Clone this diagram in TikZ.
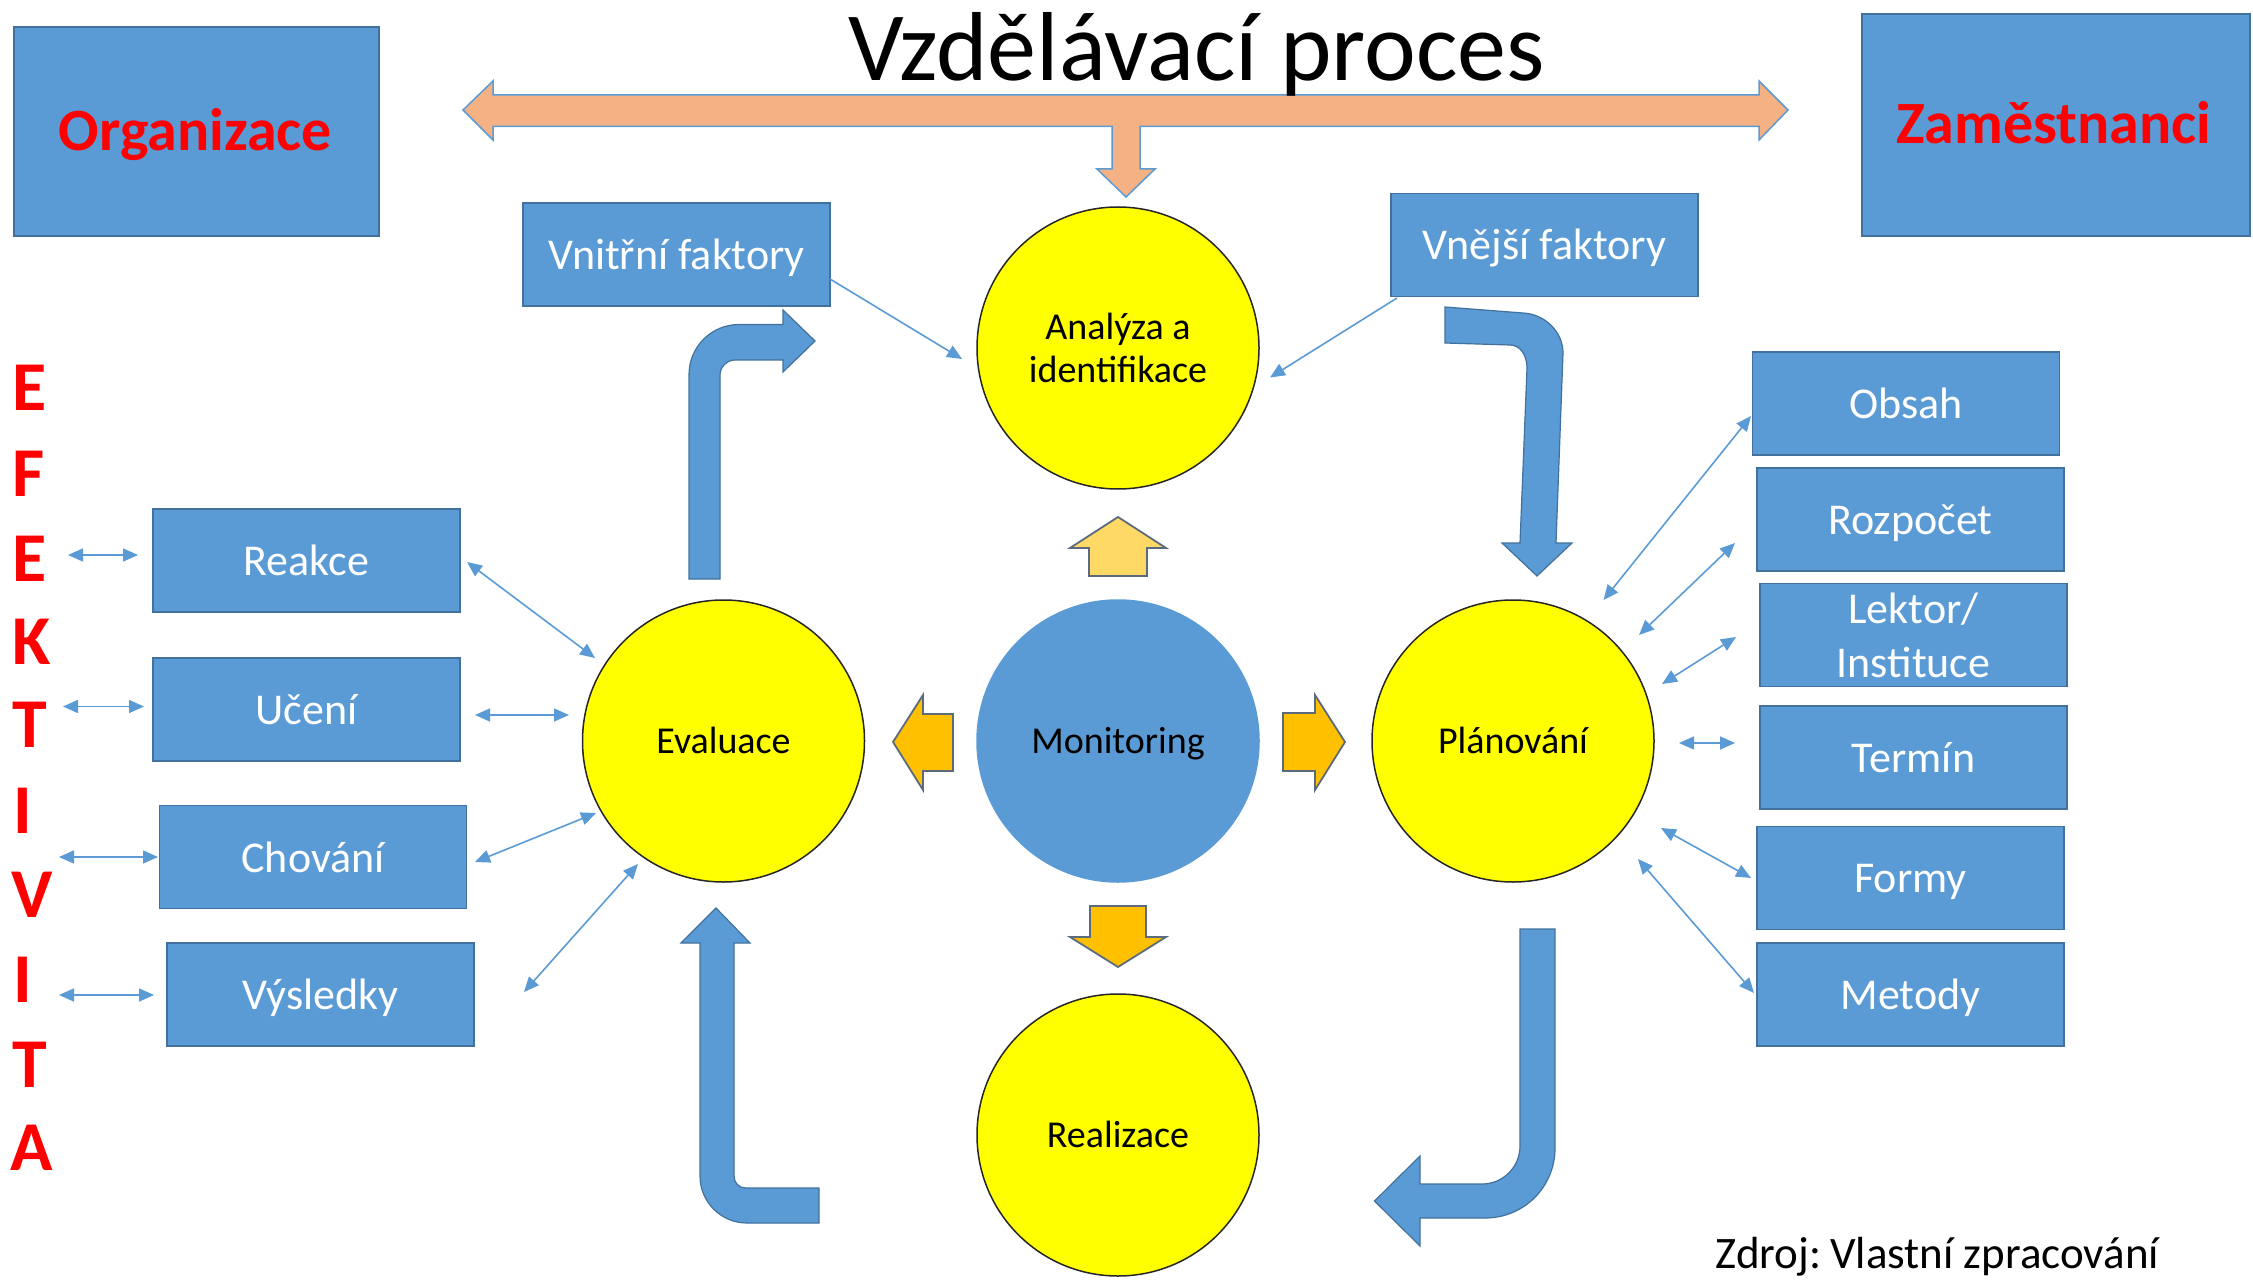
\documentclass[tikz,border=0pt]{standalone}
\usepackage{fontspec}
\setmainfont{Carlito}
\usetikzlibrary{arrows.meta}
\definecolor{cblue}{HTML}{5B9BD5}
\definecolor{cblueD}{HTML}{41719C}
\definecolor{cyell}{HTML}{FFFF00}
\definecolor{cgold}{HTML}{FFC000}
\definecolor{clgold}{HTML}{FFD966}
\definecolor{csalmon}{HTML}{F4B183}
\definecolor{cgrayline}{HTML}{5B6B7D}
\definecolor{cred}{HTML}{FF0000}
\begin{document}
\begin{tikzpicture}[x=0.5pt,y=-0.5pt,
  boxbase/.style={draw=cblueD, line width=0.75pt, fill=cblue, minimum width=153.5pt, minimum height=51.5pt, inner sep=0pt, text=white, font=\fontsize{22}{27}\selectfont},
  bluebox/.style={boxbase, text height=15pt, text depth=0pt},
  bigbox/.style={draw=cblueD, line width=0.75pt, fill=cblue, inner sep=0pt},
  redtxt/.style={text=cred, font=\bfseries\fontsize{30}{36}\selectfont, inner sep=0pt},
  circbase/.style={circle, minimum size=141pt, inner sep=0pt, fill=cyell, draw=black!85, line width=0.75pt, font=\fontsize{19}{21.5}\selectfont},
  circ/.style={circbase, text height=12.5pt, text depth=0pt},
  letter/.style={anchor=west, inner sep=0pt, text=cred, font=\bfseries\fontsize{35}{42}\selectfont, text height=22.5pt, text depth=0pt},
  dbl/.style={draw=cblue, line width=0.8pt, >={Triangle[length=7.5pt,width=6.5pt]}, <->},
  sgl/.style={draw=cblue, line width=0.8pt, >={Triangle[length=7.5pt,width=6.5pt]}, ->},
  bentarr/.style={fill=cblue, draw=cblueD, line width=0.6pt},
  salmonarr/.style={fill=csalmon, draw=cblue, line width=0.75pt},
  goldarr/.style={fill=cgold, draw=cgrayline, line width=0.9pt},
  lgoldarr/.style={fill=clgold, draw=cgrayline, line width=0.9pt}
]
\useasboundingbox (0,0) rectangle (2253,1283);

% top double arrow with down branch
\draw[salmonarr] (463,110) -- (493,81) -- (493,95) -- (1759,95) -- (1759,81) -- (1788,110) -- (1759,140) -- (1759,126.5) -- (1140,126.5) -- (1140,169) -- (1155,169) -- (1126,197) -- (1097,169) -- (1112,169) -- (1112,126.5) -- (493,126.5) -- (493,140) -- cycle;

% title
\node[anchor=base, inner sep=0pt, font=\fontsize{49}{58}\selectfont] (title) at (1196.5,81) {Vzdělávací proces};

% big boxes
\node[bigbox, minimum width=182.5pt, minimum height=104.5pt] (org) at (196.5,131.5) {};
\node[redtxt, anchor=base] (orgt) at (195.5,151) {Organizace};
\node[bigbox, minimum width=194pt, minimum height=111pt] (zam) at (2056,125) {};
\node[redtxt, anchor=base] (zamt) at (2054,144) {Zaměstnanci};

% factor boxes
\node[bluebox] (vnitr) at (676.5,254.5) {Vnitřní faktory};
\node[bluebox] (vnej) at (1544.5,245) {Vnější faktory};

% left boxes
\node[bluebox] (reakce) at (306.5,560.5) {Reakce};
\node[bluebox] (uceni) at (306.5,709.5) {Učení};
\node[bluebox] (chovani) at (313,857) {Chování};
\node[bluebox] (vysledky) at (320.5,994.5) {Výsledky};

% right boxes
\node[bluebox] (obsah) at (1906,403.5) {Obsah};
\node[bluebox] (rozpocet) at (1910.5,519.5) {Rozpočet};
\node[boxbase, align=center] (lektor) at (1913.5,635) {Lektor/\\Instituce};
\node[bluebox] (termin) at (1913.5,757.5) {Termín};
\node[bluebox] (formy) at (1910.5,877.75) {Formy};
\node[bluebox] (metody) at (1910.5,994.5) {Metody};

% circles
\node[circbase, align=center] (analyza) at (1118,348) {Analýza a\\identifikace};
\node[circ, fill=cblue, draw=cblue] (monitor) at (1118,741) {Monitoring};
\node[circ] (evaluace) at (723.5,741) {Evaluace};
\node[circ] (planovani) at (1513,741) {Plánování};
\node[circ] (realizace) at (1118,1135) {Realizace};

% gold arrows around monitoring
\draw[lgoldarr] (1118,517) -- (1166,548) -- (1147,548) -- (1147,576) -- (1089,576) -- (1089,548) -- (1070,548) -- cycle;
\draw[goldarr] (893,742) -- (923,695) -- (923,714) -- (953,714) -- (953,771) -- (923,771) -- (923,790) -- cycle;
\draw[goldarr] (1345,742) -- (1315,695) -- (1315,713) -- (1283,713) -- (1283,771) -- (1315,771) -- (1315,790) -- cycle;
\draw[goldarr] (1118,967) -- (1070,937) -- (1090,937) -- (1090,906) -- (1146,906) -- (1146,937) -- (1166,937) -- cycle;

% big bent blue arrows
\draw[bentarr] (689,579) -- (689,374.5) .. controls (689,346.9) and (711.4,324.5) .. (739,324.5) -- (783,324.5) -- (783,310) -- (815,341) -- (783,372) -- (783,360) -- (735,360) .. controls (727,360) and (720,367) .. (720,375) -- (720,579) -- cycle;
\draw[bentarr] (1445,307) -- (1523,313) .. controls (1545,314) and (1563,332) .. (1563,353) -- (1556,543) -- (1572,543) -- (1537,576) -- (1502,543) -- (1520,543) -- (1527,368) .. controls (1527,355) and (1520,345) .. (1510,345) -- (1445,343) -- cycle;
\draw[bentarr] (1520,929) -- (1555,929) -- (1555,1148) .. controls (1555,1187) and (1524,1218) .. (1485,1218) -- (1420,1218) -- (1420,1246) -- (1374.5,1201) -- (1420,1156) -- (1420,1184) -- (1482,1184) .. controls (1503,1184) and (1520,1167) .. (1520,1146) -- cycle;
\draw[bentarr] (819,1188) -- (746,1188) .. controls (739,1188) and (734,1183) .. (734,1176) -- (734,943) -- (750,943) -- (716,908) -- (681,943) -- (700,943) -- (700,1176) .. controls (700,1202) and (721,1223) .. (747,1223) -- (819,1223) -- cycle;

% EFEKTIVITA
\node[letter] (le1) at (12,388) {E};
\node[letter] (lf) at (12,474) {F};
\node[letter] (le2) at (12,559) {E};
\node[letter] (lk) at (12,642) {K};
\node[letter] (lt1) at (12,725) {T};
\node[letter] (li1) at (13,811) {I};
\node[letter] (lv) at (11,895) {V};
\node[letter] (li2) at (13,980) {I};
\node[letter] (lt2) at (12,1065) {T};
\node[letter] (la) at (10,1148) {A};

% source
\node[anchor=base west, inner sep=0pt, font=\fontsize{22.5}{27}\selectfont] (zdroj) at (1715,1268.5) {Zdroj:\hspace{0.2em}Vlastní zpracování};

% thin arrow end points
\coordinate (l1a) at (68,555);   \coordinate (l1b) at (138,555);
\coordinate (l2a) at (63,706.5); \coordinate (l2b) at (144,706.5);
\coordinate (l3a) at (59,857);   \coordinate (l3b) at (158,857);
\coordinate (l4a) at (59,995);   \coordinate (l4b) at (154,995);
\coordinate (e1a) at (467,562);  \coordinate (e1b) at (595,658);
\coordinate (e2a) at (475,715);  \coordinate (e2b) at (569,715);
\coordinate (e3a) at (475,862);  \coordinate (e3b) at (596,813);
\coordinate (e4a) at (524,992);  \coordinate (e4b) at (638,864);
\coordinate (f1a) at (830,279);  \coordinate (f1b) at (962,359);
\coordinate (f2a) at (1397,298); \coordinate (f2b) at (1270,377.5);
\coordinate (r1a) at (1603.5,600); \coordinate (r1b) at (1751,416);
\coordinate (r2a) at (1639,635); \coordinate (r2b) at (1735,543);
\coordinate (r3a) at (1662,684); \coordinate (r3b) at (1736,637);
\coordinate (r4a) at (1679,743); \coordinate (r4b) at (1735,743);
\coordinate (r5a) at (1661,828); \coordinate (r5b) at (1751,878);
\coordinate (r6a) at (1638,859); \coordinate (r6b) at (1754,993);

\draw[dbl] (l1a) -- (l1b);
\draw[dbl] (l2a) -- (l2b);
\draw[dbl] (l3a) -- (l3b);
\draw[dbl] (l4a) -- (l4b);
\draw[dbl] (e1a) -- (e1b);
\draw[dbl] (e2a) -- (e2b);
\draw[dbl] (e3a) -- (e3b);
\draw[dbl] (e4a) -- (e4b);
\draw[sgl] (f1a) -- (f1b);
\draw[sgl] (f2a) -- (f2b);
\draw[dbl] (r1a) -- (r1b);
\draw[dbl] (r2a) -- (r2b);
\draw[dbl] (r3a) -- (r3b);
\draw[dbl] (r4a) -- (r4b);
\draw[dbl] (r5a) -- (r5b);
\draw[dbl] (r6a) -- (r6b);
\end{tikzpicture}
\end{document}
